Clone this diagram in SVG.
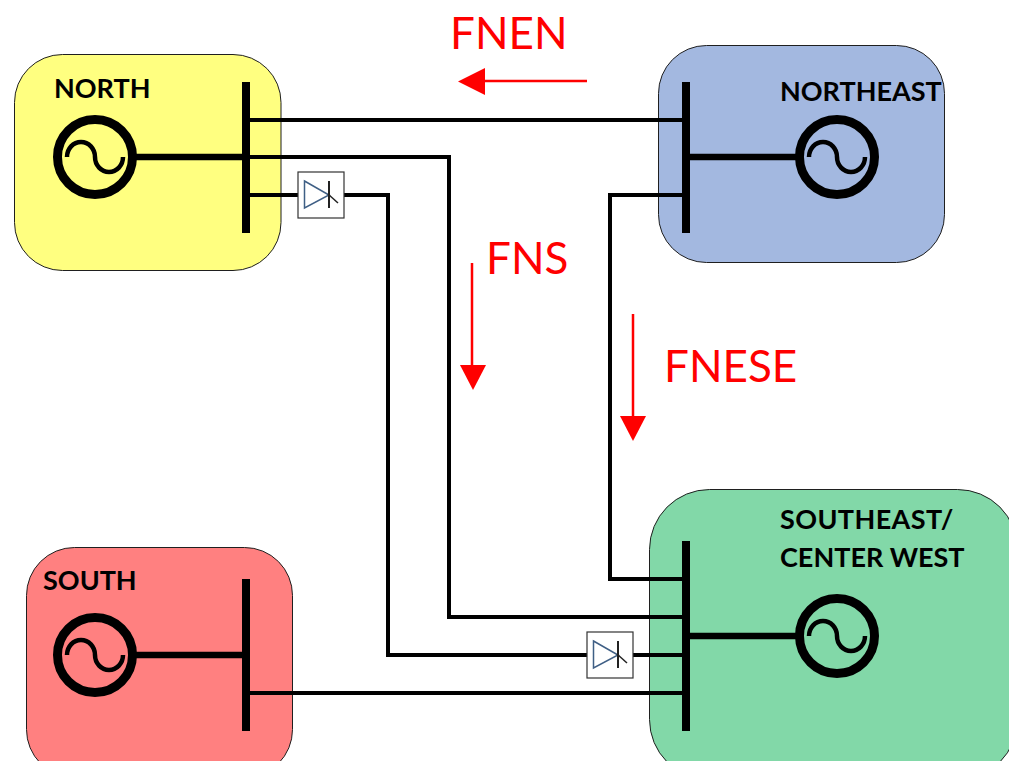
<svg xmlns="http://www.w3.org/2000/svg" width="1009" height="761" viewBox="0 0 1009 761">
<style>
.region{stroke:#1f1f1f;stroke-width:1}
.bus{stroke:#000;stroke-width:8;fill:none}
.gen{stroke:#000;stroke-width:9;fill:none}
.wave{stroke:#000;stroke-width:4.5;fill:none}
.stub{stroke:#000;stroke-width:6.500;fill:none}
.line{stroke:#000;stroke-width:4;fill:none;stroke-linejoin:miter}
.label{font-family:"Lato","Open Sans",sans-serif;font-weight:700;font-size:27px;fill:#000}
.flow{font-family:"Lato","Open Sans",sans-serif;font-size:44px;fill:#f00}
.arrow{stroke:#f00;stroke-width:2.5;fill:none}
.head{fill:#f00}
</style>
<defs>
<g id="gensym"><circle class="gen" r="37.500"/><path class="wave" d="M-28 0A14 15 0 0 1 0 0A14 15 0 0 0 28 0"/></g>
<g id="diode"><rect x="0" y="0" width="46" height="46" fill="#fff" stroke="#333" stroke-width="1.200"/><path d="M6.500 9L31 23L6.500 36Z" fill="#fff" stroke="#3f5f85" stroke-width="1.500"/><path d="M31 9V36" stroke="#222" stroke-width="2" fill="none"/><path d="M30 22L40 31" stroke="#222" stroke-width="1.500" fill="none"/></g>
</defs>
<rect width="1009" height="761" fill="#fff"/>
<g id="node-north"><rect class="region" x="14.500" y="54.500" width="266.500" height="216" rx="48" fill="#ffff80"/></g>
<g id="node-northeast"><rect class="region" x="658.500" y="45.500" width="286" height="217" rx="48" fill="#a3b8e0"/></g>
<g id="node-southeast"><rect class="region" x="649.500" y="489.500" width="368" height="290" rx="60" fill="#82d8a8"/></g>
<g id="node-south"><rect class="region" x="26.500" y="547.500" width="266" height="230" rx="48" fill="#ff8080"/></g>
<g id="connectors">
<path class="line" d="M246 120H686"/>
<path class="line" d="M246 157H449V617H686"/>
<path class="line" d="M246 195H298M344 195H388V655H587M633 655H686"/>
<path class="line" d="M686 195H610V579H686"/>
<path class="line" d="M246 693H686"/>
</g>
<g id="north-parts"><path class="bus" d="M246 82V233"/><path class="stub" d="M132 157H246"/><use href="#gensym" x="95" y="157"/><text class="label" x="54" y="98">NORTH</text></g>
<g id="northeast-parts"><path class="bus" d="M686 82V233"/><path class="stub" d="M686 157H800"/><use href="#gensym" x="837" y="157"/><text class="label" x="780" y="101">NORTHEAST</text></g>
<g id="southeast-parts"><path class="bus" d="M686 541V731"/><path class="stub" d="M686 636H800"/><use href="#gensym" x="837" y="636"/><text class="label" x="780" y="529" letter-spacing="0.400">SOUTHEAST/</text><text class="label" x="780" y="567">CENTER WEST</text></g>
<g id="south-parts"><path class="bus" d="M246 579V731"/><path class="stub" d="M132 655H246"/><use href="#gensym" x="95" y="655"/><text class="label" x="43" y="590">SOUTH</text></g>
<g id="diode-north"><use href="#diode" x="298" y="172"/></g>
<g id="diode-southeast"><use href="#diode" x="587" y="632"/></g>
<g id="flow-fnen"><path class="arrow" d="M587 81H485"/><path class="head" d="M458 81.500L485 68V95Z"/><text class="flow" x="450" y="49">FNEN</text></g>
<g id="flow-fns"><path class="arrow" d="M472 263V365"/><path class="head" d="M460 365H486L473 390Z"/><text class="flow" x="486" y="274">FNS</text></g>
<g id="flow-fnese"><path class="arrow" d="M633 314V416"/><path class="head" d="M620 416H646L633 441Z"/><text class="flow" x="664" y="382">FNESE</text></g>
</svg>
